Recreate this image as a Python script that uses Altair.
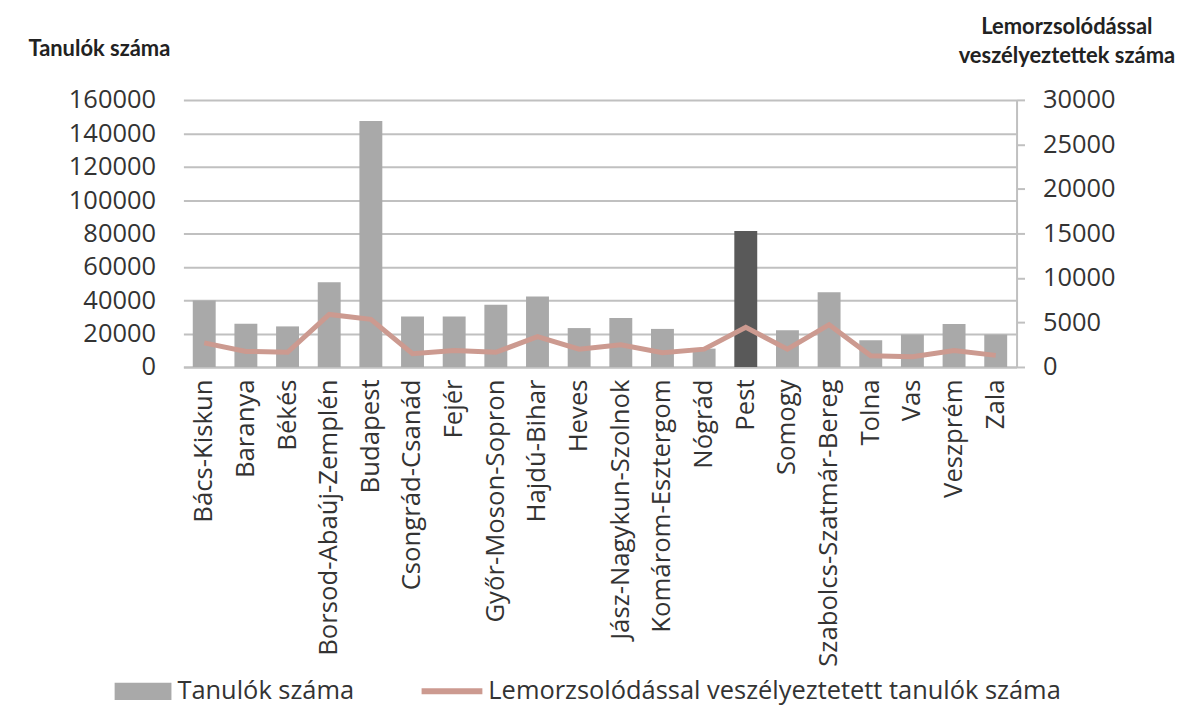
import altair as alt
import pandas as pd

megyek = ["Bács-Kiskun", "Baranya", "Békés", "Borsod-Abaúj-Zemplén", "Budapest",
          "Csongrád-Csanád", "Fejér", "Győr-Moson-Sopron", "Hajdú-Bihar", "Heves",
          "Jász-Nagykun-Szolnok", "Komárom-Esztergom", "Nógrád", "Pest", "Somogy",
          "Szabolcs-Szatmár-Bereg", "Tolna", "Vas", "Veszprém", "Zala"]
tanulok = [39800, 25900, 24300, 50700, 147300, 30200, 30200, 37200, 42200, 23300,
           29400, 22800, 11000, 81400, 22000, 44800, 16000, 19400, 25800, 19400]
veszelyeztetett = [2700, 1750, 1650, 5900, 5350, 1500, 1850, 1650, 3400, 2000,
                   2500, 1600, 2000, 4450, 2000, 4750, 1250, 1150, 1850, 1300]

S1 = "Tanulók száma"
S2 = "Lemorzsolódással veszélyeztetett tanulók száma"

df = pd.DataFrame({"megye": megyek, "tanulok": tanulok, "veszely": veszelyeztetett,
                   "s1": S1, "s2": S2})

FONT = "Open Sans"
TFONT = "Lato"
TXT = "#333333"
GRID = "#c0c0c0"
XL = 25.8
YL = 25.5
LL = 25.5

x = alt.X("megye:N", sort=megyek, title=None,
          scale=alt.Scale(paddingInner=0.45, paddingOuter=0.225),
          axis=alt.Axis(labelAngle=-90, labelFontSize=XL, labelFont=FONT, labelColor=TXT,
                        labelPadding=12, labelLimit=0, ticks=False, domainColor=GRID, domainWidth=2))

bars = alt.Chart(df).mark_bar().encode(
    x=x,
    y=alt.Y("tanulok:Q", scale=alt.Scale(domain=[0, 160000]),
            axis=alt.Axis(values=list(range(0, 160001, 20000)), format="d",
                          title=["Tanulók száma"], titleAngle=0, titleAlign="left",
                          titleBaseline="top", titleX=-156, titleY=-62,
                          titleFont=TFONT, titleFontSize=22, titleFontWeight="bold",
                          titleColor="#222222",
                          labelFontSize=YL, labelFont=FONT, labelColor=TXT,
                          labelPadding=28, ticks=False, domain=False,
                          grid=True, gridColor=GRID, gridWidth=2)),
    fill=alt.condition(alt.datum.megye == "Pest", alt.value("#595959"),
                       alt.Fill("s1:N", scale=alt.Scale(domain=[S1], range=["#a9a9a9"]),
                                legend=alt.Legend(title=None, orient="none", legendX=-69, legendY=565,
                                                  symbolType="M-1,-0.3H1V0.3H-1Z", symbolSize=3249,
                                                  symbolStrokeWidth=0, labelLimit=0,
                                                  labelFont=FONT, labelFontSize=LL, labelColor=TXT,
                                                  labelOffset=6))),
)

line = alt.Chart(df).mark_line(strokeWidth=5).encode(
    x=alt.X("megye:N", sort=megyek),
    y=alt.Y("veszely:Q", scale=alt.Scale(domain=[0, 30000]),
            axis=alt.Axis(orient="right", values=list(range(0, 30001, 5000)), format="d",
                          title=["Lemorzsolódással", "veszélyeztettek száma"], titleAngle=0,
                          titleAlign="center", titleBaseline="top", titleX=50, titleY=-84,
                          titleLineHeight=29,
                          titleFont=TFONT, titleFontSize=22, titleFontWeight="bold",
                          titleColor="#222222",
                          labelFontSize=YL, labelFont=FONT, labelColor=TXT,
                          labelPadding=18, ticks=True, tickSize=8, tickColor=GRID, tickWidth=2,
                          domain=True, domainColor=GRID, domainWidth=2, grid=False)),
    stroke=alt.Stroke("s2:N", scale=alt.Scale(domain=[S2], range=["#cc9a90"]),
                      legend=alt.Legend(title=None, orient="none", legendX=236, legendY=560,
                                        symbolType="stroke", symbolSize=3721, symbolStrokeWidth=6,
                                        labelFont=FONT, labelFontSize=LL, labelColor=TXT,
                                        labelLimit=0, labelOffset=3)),
)

chart = alt.layer(bars, line).resolve_scale(y="independent", fill="independent", stroke="independent").properties(
    width=836, height=268,
    autosize=alt.AutoSizeParams(type="none"),
    padding={"left": 176, "top": 91, "right": 163, "bottom": 342},
).configure_view(stroke=None)

chart.save("out.html", embed_options={"renderer": "svg", "actions": False})
